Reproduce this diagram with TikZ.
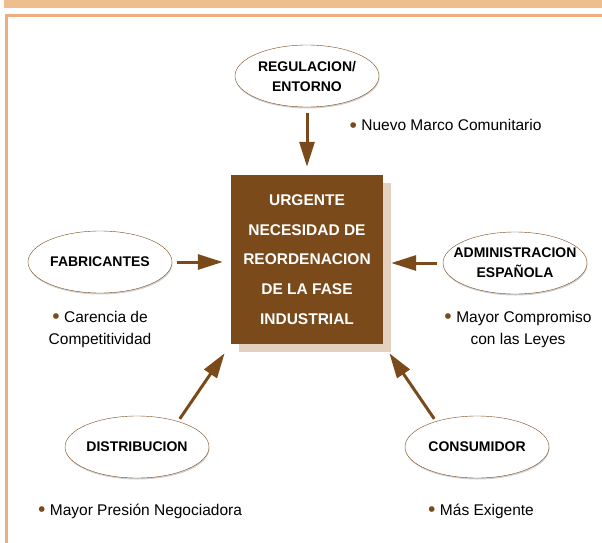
\documentclass[tikz,border=0pt]{standalone}
\usepackage{xcolor}
\usepackage{fontspec}
\setmainfont{Liberation Sans}
\usepackage{tikz}
\usetikzlibrary{shapes.geometric, arrows.meta, shadows}
\definecolor{brownfill}{HTML}{7A4A1A}
\definecolor{shadowtan}{HTML}{E3D0BE}
\definecolor{bandorange}{HTML}{EFBE8E}
\definecolor{frameorange}{HTML}{EEAE80}
\tikzstyle{actor} = [ellipse, draw=brownfill, fill=white, minimum width=144pt, minimum height=62pt, inner xsep=-12pt, text centered, align=center, font=\bfseries\fontsize{14}{20}\selectfont, drop shadow={shadow xshift=0.5pt, shadow yshift=-1.5pt, fill=black!18, opacity=1}]
\tikzstyle{core} = [rectangle, fill=brownfill, text=white, minimum width=152pt, minimum height=169pt, text centered, align=center, font=\bfseries\fontsize{15.5}{29.7}\selectfont, drop shadow={shadow xshift=8pt, shadow yshift=-8pt, fill=shadowtan, opacity=1}]
\tikzstyle{note} = [align=center, font=\fontsize{15.5}{22}\selectfont]
\tikzstyle{arrow} = [line width=3pt, draw=brownfill, -{Triangle[length=25pt,width=15pt]}, shorten >=8pt, shorten <=6pt]
\newcommand{\dotted}{{\color{brownfill}\raisebox{-1.6pt}{\fontsize{21}{21}\selectfont•}}\hspace{4.5pt}}

\begin{document}
\begin{tikzpicture}[node distance=180pt]
	\useasboundingbox (0,0) rectangle (602pt,-543pt);
	% frame
	\fill [bandorange] (4pt,0) rectangle (602pt,-8pt);
	\draw [frameorange, line width=3pt] (6.5pt,-543pt) |- (602pt,-16pt);

	\node (urgent) [core] at (307pt,-259.5pt) {URGENTE\\NECESIDAD DE\\REORDENACION\\DE LA FASE\\INDUSTRIAL};
	\node (regul) [actor, above of=urgent, yshift=3.5pt] {REGULACION/\\ENTORNO};
	\node (fabric) [actor, left of=urgent, xshift=-27pt, yshift=-2.5pt] {FABRICANTES};
	\node (admin) [actor, right of=urgent, xshift=28pt, yshift=-3.5pt] {ADMINISTRACION\\ESPAÑOLA};
	\node (distrib) [actor, below of=urgent, xshift=-170pt, yshift=-7.5pt] {DISTRIBUCION};
	\node (consum) [actor, below of=urgent, xshift=170pt, yshift=-7.5pt] {CONSUMIDOR};

	\node (nuevo) [note, node distance=138.5pt, right of=regul, yshift=-50pt] {\dotted Nuevo Marco Comunitario};
	\node (carencia) [note, node distance=67pt, below of=fabric] {\dotted Carencia de\\Competitividad};
	\node (compromiso) [note, node distance=66pt, below of=admin, xshift=3pt] {\dotted Mayor Compromiso\\con las Leyes};
	\node (presion) [note, node distance=64pt, below of=distrib, xshift=3pt] {\dotted Mayor Presión Negociadora};
	\node (exigente) [note, node distance=64pt, below of=consum, xshift=4pt] {\dotted Más Exigente};

	\draw [arrow] (regul) -- (urgent);
	\draw [arrow, shorten <=5pt] (fabric.east) -- (urgent.west |- fabric.east);
	\draw [arrow] (admin.west) -- (urgent.east |- admin.west);
	\draw [arrow, shorten <=3pt, shorten >=11pt] (distrib.32) -- (urgent.south west);
	\draw [arrow, shorten <=3pt, shorten >=11pt] (consum.148) -- (urgent.south east);
\end{tikzpicture}
\end{document}
